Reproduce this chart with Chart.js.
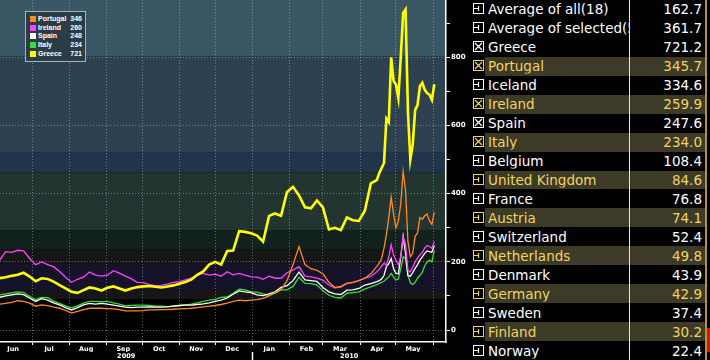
<!DOCTYPE html>
<html><head><meta charset="utf-8">
<script src="https://cdn.jsdelivr.net/npm/chart.js@4.4.1/dist/chart.umd.min.js"></script>
<style>
html,body{margin:0;padding:0;background:#000;width:710px;height:360px;overflow:hidden;}
#wrap{position:relative;width:710px;height:360px;background:#000;}
#chartBox{position:absolute;left:0;top:0;width:470px;height:360px;}
#legend{position:absolute;left:25px;top:11px;width:59px;height:49px;border:1px solid #a9b4ba;background:#2b3c47;font:bold 7px "Liberation Sans",Arial,sans-serif;color:#fff;}
.li{position:absolute;left:4px;width:52px;height:8px;line-height:8px;white-space:nowrap;}
.sw{position:absolute;left:0;top:1px;width:6px;height:6px;}
.ln{position:absolute;left:8px;top:0;}
.lv{position:absolute;right:0;top:0;}
#table{position:absolute;left:470px;top:0;width:240px;height:360px;background:#000;font:13.5px "DejaVu Sans",sans-serif;}
.row{position:absolute;left:0;width:240px;}
.row .bg{position:absolute;left:15px;width:220px;top:0;bottom:0;}
.row.alt .bg{background:#3d3b28;}
.row .nm{position:absolute;left:18px;width:141px;overflow:hidden;white-space:nowrap;top:50%;transform:translateY(-50%);line-height:15px;}
.row .vl{position:absolute;right:8px;top:50%;transform:translateY(-50%);line-height:15px;}
.row .cb{position:absolute;left:3px;top:50%;margin-top:-6px;width:9px;height:9px;border:1px solid #fff;}
.row.alt .cb{border-color:#f2d45e;}
.cb svg{position:absolute;left:0;top:0;}
#sep{position:absolute;left:159px;top:0;width:1px;height:360px;background:#e8e8e8;}
#gold{position:absolute;left:235px;top:0;width:2px;height:360px;background:#b4942e;}
#red{position:absolute;left:237px;top:328px;width:3px;height:24px;background:#e01010;}
</style>
</head>
<body>
<div id="wrap">
  <div id="chartBox"><canvas id="c" width="470" height="360"></canvas></div>
  <div id="legend"></div>
  <div id="table"><div id="sep"></div><div id="gold"></div><div id="red"></div></div>
</div>
<script>
// ---------- data ----------
const dates = [
 '2009-06-04','2009-06-09','2009-06-14','2009-06-19','2009-06-24','2009-06-29',
 '2009-07-04','2009-07-09','2009-07-14','2009-07-19','2009-07-24','2009-07-29',
 '2009-08-03','2009-08-08','2009-08-13','2009-08-18','2009-08-23','2009-08-28',
 '2009-09-02','2009-09-07','2009-09-12','2009-09-17','2009-09-22','2009-09-27',
 '2009-10-02','2009-10-07','2009-10-12','2009-10-17','2009-10-22','2009-10-27',
 '2009-11-01','2009-11-06','2009-11-11','2009-11-16','2009-11-21','2009-11-26',
 '2009-12-01','2009-12-06','2009-12-11','2009-12-16','2009-12-21','2009-12-26','2009-12-31',
 '2010-01-05','2010-01-10','2010-01-15','2010-01-20','2010-01-25','2010-01-30',
 '2010-02-04','2010-02-09','2010-02-14','2010-02-19','2010-02-24',
 '2010-03-01','2010-03-06','2010-03-11','2010-03-16','2010-03-21','2010-03-26','2010-03-31',
 '2010-04-05','2010-04-10','2010-04-15','2010-04-17','2010-04-19','2010-04-21','2010-04-23',
 '2010-04-25','2010-04-27','2010-04-29','2010-05-01','2010-05-03','2010-05-05','2010-05-07',
 '2010-05-09','2010-05-11','2010-05-13','2010-05-15','2010-05-17','2010-05-19','2010-05-21',
 '2010-05-23','2010-05-25','2010-05-27','2010-05-29','2010-05-31','2010-06-02'
];
const greece = [
 152,155,159,162,168,157,143,152,150,142,
 132,122,112,109,117,125,122,116,124,128,
 122,116,122,126,128,129,127,125,128,131,
 136,141,148,162,172,192,200,192,232,233,
 290,288,284,277,259,335,342,335,405,420,
 395,360,357,380,360,295,300,293,330,322,
 320,350,430,440,460,475,490,620,610,800,
 730,720,680,800,930,940,640,500,545,645,
 660,715,725,705,695,690,675,721
];
const portugal = [
 76,78,81,86,84,79,70,74,72,67,
 64,58,50,55,60,64,64,64,63,62,
 60,56,56,56,57,59,59,60,60,61,
 62,63,64,66,68,70,72,75,79,84,
 88,86,88,89,93,100,110,118,145,192,
 245,192,180,175,165,140,125,128,137,140,
 145,152,165,187,196,210,240,280,330,390,
 340,300,320,370,465,410,260,215,225,275,
 285,330,325,335,340,320,310,346
];
const ireland = [
 205,230,228,234,232,210,192,200,192,186,
 172,155,140,149,155,170,161,158,161,174,
 167,158,150,140,139,133,130,131,135,140,
 142,147,152,161,166,161,164,158,171,162,
 166,161,156,155,149,158,152,152,168,176,
 186,158,156,152,146,132,124,126,137,140,
 145,152,157,171,178,188,196,190,215,250,
 220,205,192,215,275,250,175,170,185,200,
 212,220,228,240,248,245,240,260
];
const spain = [
 96,100,103,106,104,94,84,92,88,80,
 74,66,59,66,74,78,76,78,76,73,
 70,67,66,67,67,68,67,67,68,70,
 72,73,73,75,77,80,84,88,94,105,
 115,112,110,103,101,106,112,125,130,145,
 170,147,145,143,125,112,106,104,117,118,
 122,132,136,142,145,150,160,186,195,210,
 180,166,165,215,275,225,160,158,168,181,
 192,205,215,225,232,230,228,248
];
const italy = [
 103,106,109,112,110,99,89,96,95,85,
 78,71,65,71,79,84,84,83,84,80,
 76,71,72,73,73,72,70,70,69,70,
 72,74,76,80,84,88,90,96,97,108,
 120,118,112,111,106,102,108,118,118,128,
 155,137,136,132,115,102,96,94,108,110,
 112,120,127,133,137,140,143,150,156,166,
 155,147,150,180,215,210,160,138,134,140,
 152,160,170,188,200,205,200,234
];
const legendNames = ['Portugal','Ireland','Spain','Italy','Greece'];
const legendValues = [346,260,248,234,721];
const monthStarts = ['2009-06-01','2009-07-01','2009-08-01','2009-09-01','2009-10-01','2009-11-01',
 '2009-12-01','2010-01-01','2010-02-01','2010-03-01','2010-04-01','2010-05-01','2010-06-01'];
const monthLabels = ['Jun','Jul','Aug','Sep','Oct','Nov','Dec','Jan','Feb','Mar','Apr','May',''];
const yearLabels = ['2009','','2010'];
const yearStart = '2010-01-01';
const yTickValues = [0,100,200,300,400,500,600,700,800,900];
const bandEdges = [91,117,194,237,293,463,522,803];
const tableNames = ['Average of all(18)','Average of selected(5)','Greece','Portugal','Iceland','Ireland',
 'Spain','Italy','Belgium','United Kingdom','France','Austria','Switzerland','Netherlands','Denmark',
 'Germany','Sweden','Finland','Norway'];
const tableValues = ['162.7','361.7','721.2','345.7','334.6','259.9','247.6','234.0','108.4','84.6',
 '76.8','74.1','52.4','49.8','43.9','42.9','37.4','30.2','22.4'];
const tableChecked = [0,0,1,1,0,1,1,1,0,0,0,0,0,0,0,0,0,0,0];

// ---------- styles ----------
const seriesColors = {Portugal:'#ff8a1e', Ireland:'#ff44ff', Spain:'#ffffff', Italy:'#33e033', Greece:'#ffff00'};
const bandColors = ['#000000','#161616','#14132a','#161616','#12221f','#233530','#22344a','#2d4151','#3a5765'];
const gridGray = 'rgba(170,182,188,0.55)';
const X_MIN = Date.parse('2009-06-04T06:00:00Z');
const X_MAX = Date.parse('2010-06-11T19:00:00Z');
const Y_MIN = -35, Y_MAX = 968;
const axisFont = {family:'DejaVu Sans', weight:'bold', size:6.5};

// ---------- legend & table (HTML) ----------
const lg = document.getElementById('legend');
legendNames.forEach((n,i)=>{
  const d = document.createElement('div'); d.className='li'; d.style.top=(3+i*8.7)+'px';
  d.innerHTML = '<span class="sw" style="background:'+seriesColors[n]+'"></span><span class="ln">'+n+'</span><span class="lv">'+legendValues[i]+'</span>';
  lg.appendChild(d);
});
const tb = document.getElementById('table');
const rowH = 360/19;
tableNames.forEach((n,i)=>{
  const r = document.createElement('div');
  const alt = (i>=3 && i%2===1);
  r.className = 'row'+(alt?' alt':'');
  r.style.top = (i*rowH)+'px'; r.style.height = rowH+'px';
  const col = alt ? '#f2d45e' : '#ffffff';
  const mark = tableChecked[i]
    ? '<svg width="9" height="9"><path d="M1 1L8 8M8 1L1 8" stroke="'+col+'" stroke-width="1.2"/></svg>'
    : '<svg width="9" height="9"><path d="M0 4.5H4.5M4.5 2V7" stroke="'+col+'" stroke-width="1.2" fill="none"/></svg>';
  r.innerHTML = '<div class="bg"></div><div class="cb">'+mark+'</div><div class="nm" style="color:'+col+'">'+n+'</div><div class="vl" style="color:'+col+'">'+tableValues[i]+'</div>';
  tb.insertBefore(r, document.getElementById('sep'));
});

// ---------- chart ----------
const xs = dates.map(d=>Date.parse(d));
const mk = arr => arr.map((v,i)=>({x:xs[i], y:v}));
const series = {Greece:greece, Portugal:portugal, Ireland:ireland, Spain:spain, Italy:italy};
const order = ['Greece','Portugal','Ireland','Spain','Italy'];
const datasets = order.map(n=>({
  label:n, data:mk(series[n]), borderColor:seriesColors[n], backgroundColor:seriesColors[n],
  borderWidth: n==='Greece'?2.6:1.3, pointRadius:0, tension:0, fill:false
}));

const bandsPlugin = {
  id:'bands',
  beforeDraw(chart){
    const {ctx, chartArea:a, scales:{y}} = chart;
    const edges = [Y_MIN, ...bandEdges, Y_MAX];
    ctx.save();
    for(let i=0;i<edges.length-1;i++){
      const y1 = y.getPixelForValue(edges[i]), y2 = y.getPixelForValue(edges[i+1]);
      ctx.fillStyle = bandColors[i];
      ctx.fillRect(a.left, y2, a.right-a.left, y1-y2);
    }
    ctx.restore();
  }
};
const zeroPad = s => { s.paddingLeft=0; s.paddingRight=0; s.paddingTop=0; s.paddingBottom=0; };
const yearTicks = () => {
  const j = Date.parse(yearStart);
  return [(X_MIN+j)/2, j, (j+X_MAX)/2];
};

new Chart(document.getElementById('c'), {
  type:'line',
  data:{datasets},
  plugins:[bandsPlugin],
  options:{
    responsive:false, animation:false, events:[],
    layout:{padding:0},
    plugins:{legend:{display:false}, tooltip:{enabled:false}},
    scales:{
      x:{
        type:'linear', position:'bottom', min:X_MIN, max:X_MAX,
        afterBuildTicks:s=>{ s.ticks = monthStarts.map(d=>({value:Date.parse(d)})); },
        afterFit:s=>{ s.height=10; zeroPad(s); },
        ticks:{autoSkip:false, maxRotation:0, minRotation:0, padding:0, labelOffset:17,
          color:'#ffffff', font:axisFont, callback:(v,i)=>monthLabels[i]},
        grid:{color:gridGray, lineWidth:1, tickLength:3, tickColor:'#ffffff', drawTicks:true},
        border:{display:true, color:'#ffffff', width:1.5, dash:[1,2]}
      },
      xYear:{
        type:'linear', position:'bottom', min:X_MIN, max:X_MAX,
        afterBuildTicks:s=>{ s.ticks = yearTicks().map(v=>({value:v})); },
        afterFit:s=>{ s.height=8; zeroPad(s); },
        ticks:{autoSkip:false, maxRotation:0, minRotation:0, padding:-8,
          color:'#ffffff', font:axisFont, callback:(v,i)=>yearLabels[i]},
        grid:{drawOnChartArea:false, drawTicks:true, tickLength:8,
          tickColor:c=> c.index===1 ? '#ffffff' : 'rgba(0,0,0,0)', tickWidth:1.5},
        border:{display:false}
      },
      y:{
        type:'linear', position:'right', min:Y_MIN, max:Y_MAX,
        afterBuildTicks:s=>{ s.ticks = yTickValues.map(v=>({value:v})); },
        afterFit:s=>{ s.width=24; zeroPad(s); },
        ticks:{padding:1, color:'#ffffff', font:{family:'DejaVu Sans', weight:'bold', size:7},
          callback:v=> v%200===0 ? String(v) : ''},
        grid:{color:c=> (c.tick && c.tick.value%200===0) ? gridGray : 'rgba(0,0,0,0)',
          lineWidth:1, tickLength:4, tickColor:'#ffffff', drawTicks:true},
        border:{display:true, color:'#ffffff', width:1.5, dash:[1,2]}
      }
    }
  }
});
</script>
</body></html>
